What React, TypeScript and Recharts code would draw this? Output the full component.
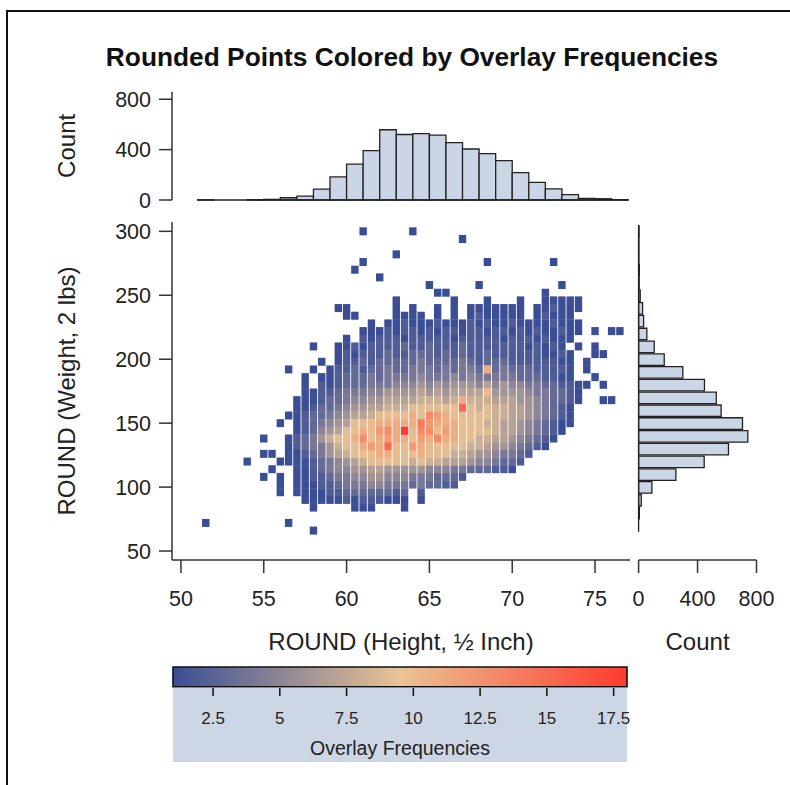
import React from 'react'
import {
  Bar,
  BarChart,
  ReferenceLine,
  Scatter,
  ScatterChart,
  XAxis,
  YAxis,
} from 'recharts'

const FONT = "'Liberation Sans', Arial, Helvetica, sans-serif"
const INK = '#222222'
const AXIS = '#333333'
const HIST_FILL = '#CAD5E5'

// top histogram: ROUND(height), 1 inch bins (bin centre)
const heightBinMid = [51.5, 52.5, 53.5, 54.5, 55.5, 56.5, 57.5, 58.5, 59.5, 60.5, 61.5, 62.5, 63.5, 64.5, 65.5, 66.5, 67.5, 68.5, 69.5, 70.5, 71.5, 72.5, 73.5, 74.5, 75.5, 76.5]
const heightBinCount = [1, 0, 0, 2, 5, 18, 30, 87, 183, 285, 392, 558, 520, 527, 515, 456, 405, 369, 313, 217, 140, 89, 43, 13, 10, 3]

// right histogram: ROUND(weight), 10 lb bins (bin centre)
const weightBinMid = [80, 90, 100, 110, 120, 130, 140, 150, 160, 170, 180, 190, 200, 210, 220, 230, 240, 250, 260, 270, 280, 290, 300]
const weightBinCount = [5, 18, 90, 253, 445, 610, 741, 705, 560, 527, 447, 300, 174, 106, 56, 34, 27, 11, 4, 5, 2, 2, 3]

// scatter grid: columns are rounded heights, rows are weights
const heightCols = [
  51, 51.5, 52, 52.5, 53, 53.5, 54, 54.5, 55, 55.5, 56, 56.5, 57, 57.5, 58, 58.5, 59, 59.5,
  60, 60.5, 61, 61.5, 62, 62.5, 63, 63.5, 64, 64.5, 65, 65.5, 66, 66.5, 67, 67.5, 68, 68.5,
  69, 69.5, 70, 70.5, 71, 71.5, 72, 72.5, 73, 73.5, 74, 74.5, 75, 75.5, 76, 76.5, 77,
]
const weightRows = [
  300, 294, 288, 282, 276, 270, 264, 258, 252, 246, 240, 234, 228, 222, 216, 210, 204, 198, 192, 186,
  180, 174, 168, 162, 156, 150, 144, 138, 132, 126, 120, 114, 108, 102, 96, 90, 84, 78, 72, 66,
]
// overlay frequency per cell: '.' empty, 1-9, a-i = 10-18
const freqRows = [
  '..... ..... ..... ..... 1.... .1... ..... ..... ..... ..... ...',
  '..... ..... ..... ..... ..... ..... ..1.. ..... ..... ..... ...',
  '..... ..... ..... ..... ..... ..... ..... ..... ..... ..... ...',
  '..... ..... ..... ..... ....1 ..... ..... ..... ..... ..... ...',
  '..... ..... ..... ..... 1.... ..... ..... 1.... ...1. ..... ...',
  '..... ..... ..... ....1 ..... ..... ..... ..... ..... ..... ...',
  '..... ..... ..... ..... ..1.. ..... ..... ..... ..... ..... ...',
  '..... ..... ..... ..... ..... ...1. ....1 ..... ....1 ..... ...',
  '..... ..... ..... ..... ..... ....1 1.... ..... ..1.. ..... ...',
  '..... ..... ..... ..... ....1 ..... .1... 1...1 ..111 11... ...',
  '..... ..... ..... ..11. ....1 .1..1 .1.11 11111 .1121 11... ...',
  '..... ..... ..... ...11 ....1 111.1 .1.12 11111 .1211 1.... ...',
  '..... ..... ..... ..... .1.11 21112 11121 21121 11121 11... ...',
  '..... ..... ..... ..... 11121 22121 22122 12212 12112 11.1. 11.',
  '..... ..... ..... ...1. 21222 12222 21222 22122 21211 1.... ...',
  '..... ..... ....1 ..112 12222 32232 22322 22222 12121 .1.1. ...',
  '..... ..... ..... ..121 22232 23332 32322 32222 22112 1..11 ...',
  '..... ..... ..... 1.122 32333 33433 33432 33322 22221 1.1.. ...',
  '..... ..... .1..1 .1223 23343 34443 43443 b3433 32222 1.1.. ...',
  '..... ..... ...1. 11233 34344 44544 45454 44443 33221 1..1. ...',
  '..... ..... ...1. 21233 34445 55656 56665 75655 44332 211.1 ...',
  '..... ..... ...11 22344 45566 66767 67777 a6666 54433 21... ...',
  '..... ..... ..111 23345 56677 77888 78b88 87776 65433 21..1 1..',
  '..... ..... ..112 33456 67788 89999 9af98 98877 65432 1.... ...',
  '..... ..... .1123 34567 789aa ab9dc baa99 98877 65432 1.... ...',
  '..... ..... 1.123 45679 9abbb bbecb bba99 88776 54321 1.... ...',
  '..... ..... ..123 5679a bacdb i9dda cbaa9 98776 54321 ..... ...',
  '..... ...1. .1234 689ab dabcb bacbd bba98 87765 4321. ..... ...',
  '..... ..... .1234 46899 bcbfa acb9a a9988 76654 321.. ..... ...',
  '..... ...11 .1123 46789 aabba 9ab99 98876 65443 2.... ..... ...',
  '..... .1... 11112 34567 899a9 98988 77765 54332 ..... ..... ...',
  '..... ....1 ..112 34556 67766 66655 54433 3221. ..... ..... ...',
  '..... ...1. 1.112 23445 56655 54443 332.. ..... ..... ..... ...',
  '..... ..... 1.111 22344 45544 43433 22... ..... ..... ..... ...',
  '..... ..... 1.111 12233 33332 3.2.. ..... ..... ..... ..... ...',
  '..... ..... ...11 11121 22211 1.1.. ..... ..... ..... ..... ...',
  '..... ..... ....1 ....1 11... 1.... ..... ..... ..... ..... ...',
  '..... ..... ..... ..... ..... ..... ..... ..... ..... ..... ...',
  '.1... ..... .1... ..... ..... ..... ..... ..... ..... ..... ...',
  '..... ..... ....1 ..... ..... ..... ..... ..... ..... ..... ...',
]

const heightTicks = [50, 55, 60, 65, 70, 75]
const weightTicks = [50, 100, 150, 200, 250, 300]
const countTicks = [0, 400, 800]
const freqTicks = [2.5, 5, 7.5, 10, 12.5, 15, 17.5]

// three colour ramp: value -> rgb
const rampValues = [1, 9.5, 18]
const rampColors = [
  [58, 77, 149],
  [234, 196, 148],
  [255, 58, 46],
]

const freqColor = (f: number) => {
  const i = f <= rampValues[1] ? 0 : 1
  const t = Math.max(0, Math.min(1, (f - rampValues[i]) / (rampValues[i + 1] - rampValues[i])))
  const c = rampColors[i].map((v, k) => Math.round(v + (rampColors[i + 1][k] - v) * t))
  return `rgb(${c[0]},${c[1]},${c[2]})`
}

const topHist = heightBinMid.map((mid, i) => ({ mid, count: heightBinCount[i] }))
const rightHist = weightBinMid.map((mid, i) => ({ mid, count: weightBinCount[i] }))

const cells = weightRows
  .flatMap((w, r) =>
    freqRows[r]
      .replace(/ /g, '')
      .split('')
      .map((ch, c) => (ch === '.' ? null : { h: heightCols[c], w, f: parseInt(ch, 36) }))
  )
  .filter((d): d is { h: number; w: number; f: number } => d !== null)
  .sort((a, b) => a.f - b.f)

// colour bar spans the full frequency range
const rampBar = [{ name: 'ramp', range: [1, 18] }]

const HEIGHT_DOMAIN: [number, number] = [49.46, 77.11]
const WEIGHT_DOMAIN: [number, number] = [43, 307.3]

const tickStyle = { fill: INK, fontSize: 21.5, fontFamily: FONT }
const labelStyle = { fill: INK, fontSize: 24, fontFamily: FONT }

const CellMark = (props: any) => {
  const { cx, cy, payload } = props
  if (cx == null || cy == null) return null
  return (
    <rect
      x={cx - 3.7}
      y={cy - 4}
      width={7.4}
      height={8}
      fill={freqColor(payload.f)}
    />
  )
}

const abs = (left: number, top: number): React.CSSProperties => ({
  position: 'absolute',
  left,
  top,
})

export default function App() {
  return (
    <div
      style={{
        position: 'absolute',
        left: 0,
        top: 0,
        width: 790,
        height: 785,
        overflow: 'hidden',
        background: '#fff',
        fontFamily: FONT,
      }}
    >
      <svg width={1} height={1} style={{ position: 'absolute', left: 0, top: 0 }}>
        <defs>
          <linearGradient id="freqRamp" x1="0" x2="1" y1="0" y2="0">
            {rampValues.map((v, i) => (
              <stop
                key={v}
                offset={(v - 1) / 17}
                stopColor={`rgb(${rampColors[i].join(',')})`}
              />
            ))}
          </linearGradient>
        </defs>
      </svg>

      {/* frame */}
      <div
        style={{
          ...abs(6, 10),
          width: 800,
          height: 800,
          borderTop: '2px solid #111',
          borderLeft: '2px solid #111',
        }}
      />

      <svg width={790} height={80} style={abs(0, 0)}>
        <text
          x={412}
          y={66}
          textAnchor="middle"
          fontSize={26.3}
          fontWeight="bold"
          fontFamily={FONT}
          fill="#111"
        >
          Rounded Points Colored by Overlay Frequencies
        </text>
      </svg>

      {/* main scatter */}
      <div style={abs(0, 200)}>
        <ScatterChart
          width={640}
          height={460}
          margin={{ top: 22, right: 10, bottom: 5, left: 0 }}
        >
          <XAxis
            type="number"
            dataKey="h"
            domain={HEIGHT_DOMAIN}
            allowDataOverflow
            ticks={heightTicks}
            interval={0}
            height={95}
            tickSize={13}
            tickMargin={18}
            stroke={AXIS}
            strokeWidth={1.5}
            tick={tickStyle}
            label={{ value: 'ROUND (Height, ½ Inch)', position: 'insideBottom', offset: 5, ...labelStyle }}
          />
          <YAxis
            type="number"
            dataKey="w"
            domain={WEIGHT_DOMAIN}
            allowDataOverflow
            ticks={weightTicks}
            interval={0}
            width={172}
            tickSize={13}
            tickMargin={8}
            stroke={AXIS}
            strokeWidth={1.5}
            tick={tickStyle}
            label={{ value: 'ROUND (Weight, 2 lbs)', angle: -90, position: 'center', dx: -20, ...labelStyle }}
          />
          <Scatter data={cells} shape={CellMark} isAnimationActive={false} />
        </ScatterChart>
      </div>

      {/* top histogram */}
      <div style={abs(0, 80)}>
        <BarChart
          width={640}
          height={142}
          data={topHist}
          margin={{ top: 11.7, right: 10, bottom: 22, left: 0 }}
        >
          <XAxis type="number" dataKey="mid" domain={HEIGHT_DOMAIN} hide allowDataOverflow />
          <YAxis
            type="number"
            domain={[0, 860]}
            ticks={countTicks}
            interval={0}
            width={172}
            tickSize={13}
            tickMargin={8}
            stroke={AXIS}
            strokeWidth={1.5}
            tick={tickStyle}
            label={{ value: 'Count', angle: -90, position: 'center', dx: -20, ...labelStyle }}
          />
          <ReferenceLine
            segment={[
              { x: 51, y: 0 },
              { x: 77, y: 0 },
            ]}
            stroke="#222"
            strokeWidth={1.3}
          />
          <Bar
            dataKey="count"
            fill={HIST_FILL}
            stroke="#222"
            strokeWidth={1.3}
            barSize={16.56}
            isAnimationActive={false}
          />
        </BarChart>
      </div>

      {/* right histogram */}
      <div style={abs(600, 200)}>
        <BarChart
          layout="vertical"
          width={190}
          height={460}
          data={rightHist}
          margin={{ top: 22, right: 33.5, bottom: 5, left: 38.6 }}
        >
          <XAxis
            type="number"
            domain={[0, 800]}
            ticks={countTicks}
            interval={0}
            height={95}
            tickSize={13}
            tickMargin={18}
            stroke={AXIS}
            strokeWidth={1.5}
            tick={tickStyle}
            label={{ value: 'Count', position: 'insideBottom', offset: 5, ...labelStyle }}
          />
          <YAxis type="number" dataKey="mid" domain={WEIGHT_DOMAIN} reversed hide allowDataOverflow />
          <ReferenceLine
            segment={[
              { x: 0, y: 65 },
              { x: 0, y: 305 },
            ]}
            stroke="#222"
            strokeWidth={1.3}
          />
          <Bar
            dataKey="count"
            fill={HIST_FILL}
            stroke="#222"
            strokeWidth={1.3}
            barSize={12.8}
            isAnimationActive={false}
          />
        </BarChart>
      </div>

      {/* colour ramp legend */}
      <div style={{ ...abs(173, 688), width: 454, height: 74, background: '#CCD6E5' }} />
      <div style={abs(163, 656)}>
        <BarChart
          layout="vertical"
          width={474}
          height={110}
          data={rampBar}
          margin={{ top: 10, right: 10, bottom: 8, left: 10 }}
        >
          <XAxis
            type="number"
            domain={[1, 18]}
            ticks={freqTicks}
            interval={0}
            height={70}
            tickSize={8}
            tickMargin={16}
            axisLine={false}
            stroke="#111"
            strokeWidth={1.5}
            tick={{ fill: INK, fontSize: 17, fontFamily: FONT }}
            label={{ value: 'Overlay Frequencies', position: 'insideBottom', offset: 3, fill: INK, fontSize: 19.5, fontFamily: FONT }}
          />
          <YAxis type="category" dataKey="name" hide />
          <Bar
            dataKey="range"
            fill="url(#freqRamp)"
            stroke="#111"
            strokeWidth={1.6}
            barSize={22}
            isAnimationActive={false}
          />
        </BarChart>
      </div>
    </div>
  )
}
